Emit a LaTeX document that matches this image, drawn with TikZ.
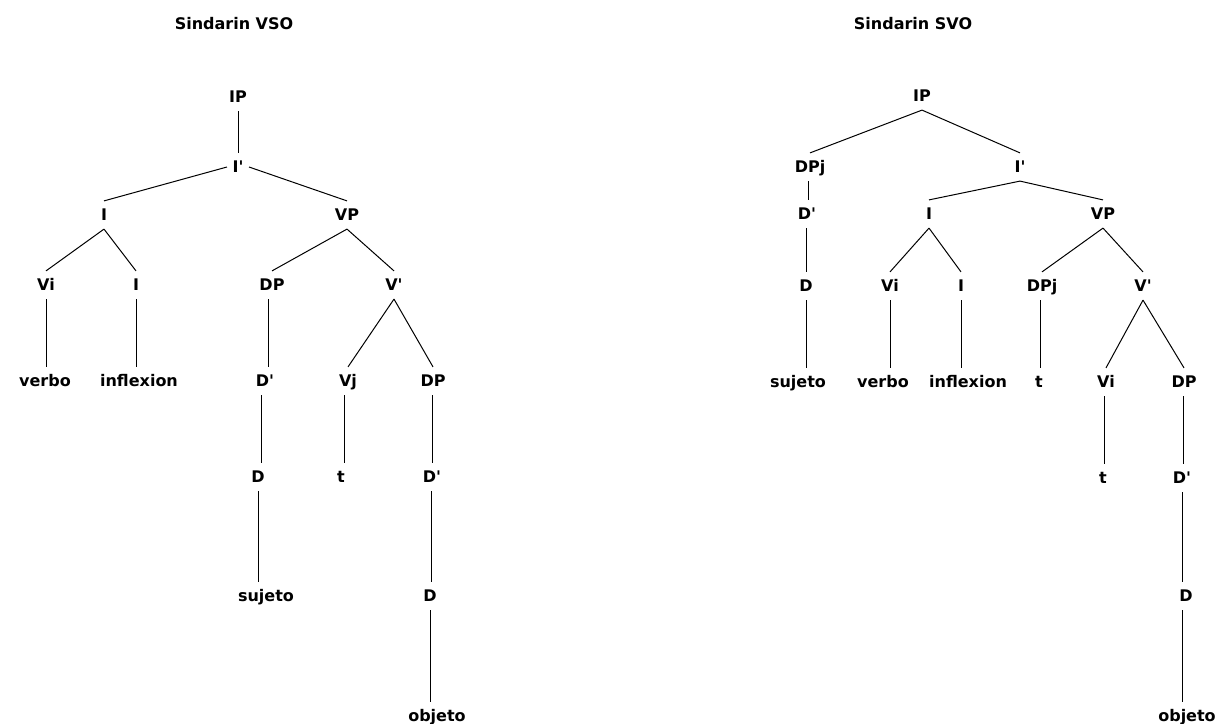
\documentclass[tikz,border=0pt]{standalone}
\usepackage{fontspec}
\setmainfont{DejaVu Sans}[Ligatures=TeXOff]
\usetikzlibrary{calc}
\newcommand\vedge[2]{\draw[edge] let \p1=($(#1)!.5!(#2)$) in (#1.south -| \p1) -- (#2.north -| \p1);}
\begin{document}
\begin{tikzpicture}[x=0.75pt,y=-0.75pt,
  lab/.style={font=\fontsize{12}{14}\selectfont\bfseries, text height=8.75pt, text depth=0pt, inner xsep=4pt, inner ysep=6pt},
  edge/.style={draw=black, line width=0.75pt}]
\useasboundingbox (0,0) rectangle (1220,724);
\fill[white] (0,0) rectangle (1220,724);
% ---------------- left tree ----------------
\node[lab] (titleL) at (234,24) {Sindarin VSO};
\node[lab] (ipL) at (238,97) {IP};
\node[lab] (ibarL) at (238,167) {I'};
\node[lab] (iL) at (104,215) {I};
\node[lab] (vpL) at (347,215) {VP};
\node[lab] (viL) at (46,285) {Vi};
\node[lab] (i2L) at (136,285) {I};
\node[lab] (dpL) at (272,285) {DP};
\node[lab] (vbarL) at (394,285) {V'};
\node[lab] (verboL) at (45,381) {verbo};
\node[lab] (inflL) at (139,381) {inflexion};
\node[lab] (dbarL) at (265,381) {D'};
\node[lab] (vjL) at (348,381) {Vj};
\node[lab] (dp2L) at (433,381) {DP};
\node[lab] (dL) at (258,477) {D};
\node[lab] (tL) at (341,477) {t};
\node[lab] (dbar2L) at (432,477) {D'};
\node[lab] (sujL) at (266,596) {sujeto};
\node[lab] (d2L) at (430,596) {D};
\node[lab] (objL) at (437,716) {objeto};
\draw[edge] (ipL.south) -- (ibarL.north);
\draw[edge] (ibarL.west) -- (iL.north);
\draw[edge] (ibarL.east) -- (vpL.north);
\draw[edge] (iL.south) -- (viL.north);
\draw[edge] (iL.south) -- (i2L.north);
\draw[edge] (vpL.south) -- (dpL.north);
\draw[edge] (vpL.south) -- (vbarL.north);
\draw[edge] (viL.south) -- (verboL.north -| viL.south);
\draw[edge] (i2L.south) -- (inflL.north -| i2L.south);
\vedge{dpL}{dbarL}
\draw[edge] (vbarL.south) -- (vjL.north);
\draw[edge] (vbarL.south) -- (dp2L.north);
\vedge{dbarL}{dL}
\vedge{vjL}{tL}
\vedge{dp2L}{dbar2L}
\draw[edge] (dL.south) -- (sujL.north -| dL.south);
\vedge{dbar2L}{d2L}
\draw[edge] (d2L.south) -- (objL.north -| d2L.south);
% ---------------- right tree ----------------
\node[lab] (titleR) at (913,24) {Sindarin SVO};
\node[lab] (ipR) at (922,96) {IP};
\node[lab] (dpjR) at (810,167) {DPj};
\node[lab] (ibarR) at (1020,167) {I'};
\node[lab] (dbarR) at (807,214) {D'};
\node[lab] (iR) at (929,214) {I};
\node[lab] (vpR) at (1103,214) {VP};
\node[lab] (dR) at (806,286) {D};
\node[lab] (viR) at (890,286) {Vi};
\node[lab] (i2R) at (961,286) {I};
\node[lab] (dpj2R) at (1042,286) {DPj};
\node[lab] (vbarR) at (1143,286) {V'};
\node[lab] (sujR) at (798,382) {sujeto};
\node[lab] (verboR) at (883,382) {verbo};
\node[lab] (inflR) at (968,382) {inflexion};
\node[lab] (tR) at (1039,382) {t};
\node[lab] (vi2R) at (1106,382) {Vi};
\node[lab] (dpR) at (1184,382) {DP};
\node[lab] (t2R) at (1103,478) {t};
\node[lab] (dbar2R) at (1182,478) {D'};
\node[lab] (d2R) at (1186,596) {D};
\node[lab] (objR) at (1187,716) {objeto};
\draw[edge] (ipR.south) -- (dpjR.north);
\draw[edge] (ipR.south) -- (ibarR.north);
\vedge{dpjR}{dbarR}
\draw[edge] (ibarR.south) -- (iR.north);
\draw[edge] (ibarR.south) -- (vpR.north);
\vedge{dbarR}{dR}
\draw[edge] (iR.south) -- (viR.north);
\draw[edge] (iR.south) -- (i2R.north);
\draw[edge] (vpR.south) -- (dpj2R.north);
\draw[edge] (vpR.south) -- (vbarR.north);
\draw[edge] (dR.south) -- (sujR.north -| dR.south);
\draw[edge] (viR.south) -- (verboR.north -| viR.south);
\draw[edge] (i2R.south) -- (inflR.north -| i2R.south);
\vedge{dpj2R}{tR}
\draw[edge] (vbarR.south) -- (vi2R.north);
\draw[edge] (vbarR.south) -- (dpR.north);
\vedge{vi2R}{t2R}
\vedge{dpR}{dbar2R}
\draw[edge] (dbar2R.south) -- (d2R.north -| dbar2R.south);
\draw[edge] (d2R.south -| dbar2R.south) -- (objR.north -| dbar2R.south);
\end{tikzpicture}
\end{document}
